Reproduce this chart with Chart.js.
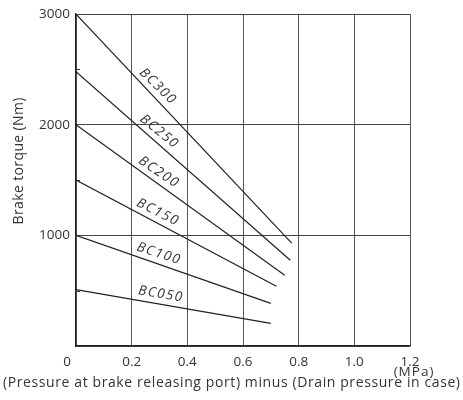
<!DOCTYPE html>
<html>
<head>
<meta charset="utf-8">
<script src="https://cdn.jsdelivr.net/npm/chart.js@4.4.0/dist/chart.umd.min.js"></script>
<style>
  html, body { margin: 0; padding: 0; background: #fff; }
  #wrap { width: 463px; height: 400px; }
</style>
</head>
<body>
<div id="wrap"><canvas id="torqueChart"></canvas></div>
<script>
// brake models and their straight-line torque curves
const models = ['BC300', 'BC250', 'BC200', 'BC150', 'BC100', 'BC050']
const startTorque = [3000, 2480, 2000, 1500, 1000, 510]     // torque at 0 MPa
const endPressure = [0.775, 0.77, 0.75, 0.72, 0.70, 0.70]   // MPa where line stops
const endTorque = [930, 775, 640, 540, 385, 205]
const labelPressure = [0.268, 0.276, 0.277, 0.278, 0.286, 0.299]  // where the name sits on each line

const xTicks = [0, 0.2, 0.4, 0.6, 0.8, 1.0, 1.2]
const yTicks = [1000, 2000, 3000]
const yMinorTicks = [500, 1500, 2500]

const xTitle = '(Pressure at brake releasing port) minus (Drain pressure in case)'
const yTitle = 'Brake torque (Nm)'

const FONT = "'Open Sans', 'DejaVu Sans', sans-serif"
const INK = '#333'

const datasets = models.map((name, i) => ({
    label: name,
    data: [{ x: 0, y: startTorque[i] }, { x: endPressure[i], y: endTorque[i] }],
    borderColor: '#222',
    borderWidth: 1.2,
    pointRadius: 0,
    fill: false
}))

// draw text stretched with letter spacing so it covers a given width
function spacedText(ctx, text, x, y, width) {
    ctx.letterSpacing = '0px'
    const w = ctx.measureText(text).width
    const gap = Math.max(0, (width - w) / (text.length - 1))
    ctx.letterSpacing = gap + 'px'
    ctx.fillText(text, x + gap / 2, y)
    ctx.letterSpacing = '0px'
}

// names along each line, axis titles, (MPa) unit, small inner ticks
const curveLabels = {
    id: 'curveLabels',
    afterDatasetsDraw(chart) {
        const ctx = chart.ctx
        const xs = chart.scales.x
        const ys = chart.scales.y
        ctx.save()
        ctx.strokeStyle = '#333'
        ctx.lineWidth = 1
        yMinorTicks.forEach(v => {
            const py = Math.round(ys.getPixelForValue(v)) + 0.5
            ctx.beginPath()
            ctx.moveTo(xs.left, py)
            ctx.lineTo(xs.left + 4, py)
            ctx.stroke()
        })
        ctx.fillStyle = INK
        ctx.font = 'italic 13.5px ' + FONT
        ctx.letterSpacing = '1.5px'
        ctx.textAlign = 'center'
        ctx.textBaseline = 'middle'
        models.forEach((name, i) => {
            const x0 = xs.getPixelForValue(0), y0 = ys.getPixelForValue(startTorque[i])
            const x1 = xs.getPixelForValue(endPressure[i]), y1 = ys.getPixelForValue(endTorque[i])
            const ang = Math.atan2(y1 - y0, x1 - x0)
            const t = labelPressure[i] / endPressure[i]
            const px = x0 + (x1 - x0) * t
            const py = y0 + (y1 - y0) * t
            const off = 10
            ctx.save()
            ctx.translate(px + Math.sin(ang) * off, py - Math.cos(ang) * off)
            ctx.rotate(ang * 0.95)
            ctx.fillText(name, 0, 0)
            ctx.restore()
        })
        ctx.font = '13.5px ' + FONT
        ctx.letterSpacing = '1px'
        ctx.fillText('(MPa)', xs.getPixelForValue(1.2) + 4, 372)
        // axis titles
        ctx.font = '14px ' + FONT
        spacedText(ctx, xTitle, 231.5, 383, 457)
        ctx.save()
        ctx.translate(19, 161)
        ctx.rotate(-Math.PI / 2)
        spacedText(ctx, yTitle, 0, 0, 127)
        ctx.restore()
        ctx.restore()
    }
}

var torqueChart = new Chart(
    document.getElementById('torqueChart'),
    {
        type: 'line',
        data: { datasets: datasets },
        options: {
            responsive: true,
            maintainAspectRatio: false,
            animation: false,
            layout: {
                padding: { top: 14, right: 53, left: 0, bottom: 0 }
            },
            plugins: {
                legend: { display: false },
                tooltip: { enabled: false }
            },
            scales: {
                x: {
                    type: 'linear',
                    min: 0,
                    max: 1.2,
                    afterBuildTicks: scale => {
                        scale.ticks = xTicks.map(v => ({ value: v }))
                    },
                    afterFit: scale => { scale.height = 54 },
                    ticks: {
                        color: INK,
                        font: { family: FONT, size: 13.5 },
                        padding: 8,
                        maxRotation: 0,
                        callback: v => v === 0 ? '0     ' : v.toFixed(1)
                    },
                    grid: { color: '#555', lineWidth: 1, drawTicks: false },
                    border: { color: '#222', width: 1.3 }
                },
                y: {
                    min: 0,
                    max: 3000,
                    afterBuildTicks: scale => {
                        scale.ticks = [0].concat(yTicks).map(v => ({ value: v }))
                    },
                    afterFit: scale => { scale.width = 76 },
                    ticks: {
                        color: INK,
                        font: { family: FONT, size: 13.5 },
                        padding: 6,
                        callback: v => v === 0 ? '' : v
                    },
                    grid: { color: '#444', lineWidth: 1, drawTicks: false },
                    border: { color: '#222', width: 1.3 }
                }
            }
        },
        plugins: [curveLabels]
    }
);
</script>
</body>
</html>
